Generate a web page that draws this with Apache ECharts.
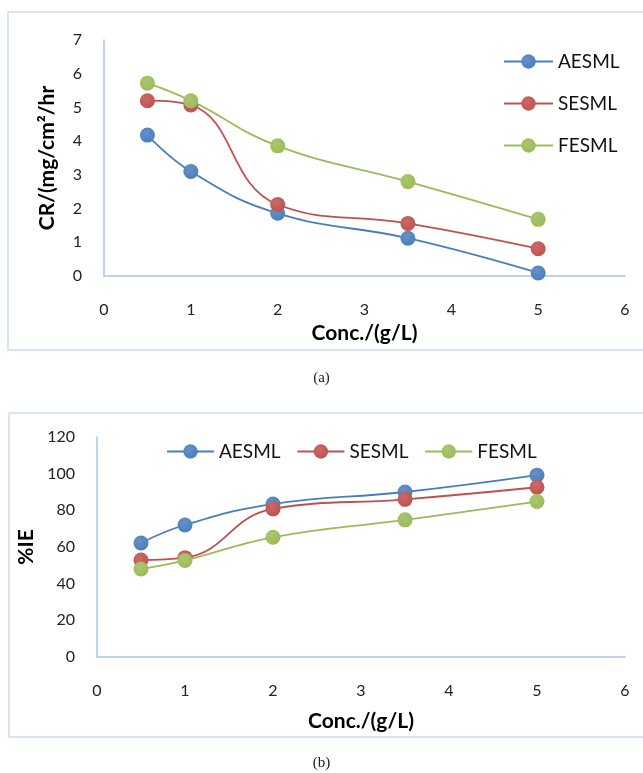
<!DOCTYPE html>
<html>
<head>
<meta charset="utf-8">
<script src="https://cdn.jsdelivr.net/npm/echarts@6/dist/echarts.min.js"></script>
<style>
  html, body { margin: 0; padding: 0; background: #ffffff; }
  #chart { width: 643px; height: 773px; }
</style>
</head>
<body>
<div id="chart"></div>
<script>
// Inhibitor concentration (g/L)
const concentrations = [0.5, 1, 2, 3.5, 5];

// Panel (a): corrosion rate, mg/cm²/hr
const crAESML = [4.18, 3.1, 1.86, 1.12, 0.09];
const crSESML = [5.2, 5.07, 2.12, 1.56, 0.81];
const crFESML = [5.72, 5.2, 3.86, 2.8, 1.68];

// Panel (b): inhibition efficiency, %
const ieAESML = [62.2, 72.0, 83.4, 90.0, 99.2];
const ieSESML = [52.9, 54.2, 80.8, 86.0, 92.6];
const ieFESML = [48.0, 52.7, 65.3, 74.8, 84.8];

const seriesNames = ['AESML', 'SESML', 'FESML'];
const xTicks = [0, 1, 2, 3, 4, 5, 6];
const crTicks = [0, 1, 2, 3, 4, 5, 6, 7];
const ieTicks = [0, 20, 40, 60, 80, 100, 120];

const colors = ['#4a7ebb', '#c0504d', '#9bbb59'];
const FONT = 'Lato';

function pairs(ys) { return concentrations.map((x, i) => [x, ys[i]]); }

// Slightly shaded round marker fill
function ball(c) {
  return {
    type: 'radial', x: 0.4, y: 0.35, r: 0.7,
    colorStops: [{ offset: 0, color: echarts.color.lift(c, 0.15) }, { offset: 1, color: c }]
  };
}

function lineSeries(name, ys, idx, color) {
  return {
    name: name, type: 'line', xAxisIndex: idx, yAxisIndex: idx,
    data: pairs(ys), smooth: 0.45, symbol: 'circle', symbolSize: 15,
    lineStyle: { color: color, width: 1.8 },
    itemStyle: { color: ball(color), borderWidth: 0 },
    emphasis: { disabled: true }
  };
}

function xAxis(idx, gap) {
  return {
    type: 'value', gridIndex: idx, min: 0, max: 6, interval: 1,
    name: 'Conc./(g/L)', nameLocation: 'middle', nameGap: gap,
    nameTextStyle: { fontFamily: FONT, fontWeight: 'bold', fontSize: 21, color: '#000' },
    axisLine: { show: true, onZero: false, lineStyle: { color: '#a9c4e8', width: 1.5 } },
    axisTick: { show: false }, splitLine: { show: false },
    axisLabel: { margin: 26, fontFamily: FONT, fontSize: 16, color: '#222',
      formatter: v => xTicks.includes(v) ? String(v) : '' }
  };
}

function yAxis(idx, name, max, step, ticks, gap) {
  return {
    type: 'value', gridIndex: idx, min: 0, max: max, interval: step,
    name: name, nameLocation: 'middle', nameGap: gap, nameRotate: 90,
    nameTextStyle: { fontFamily: FONT, fontWeight: 'bold', fontSize: 21, color: '#000' },
    axisLine: { show: true, lineStyle: { color: '#a9c4e8', width: 1.5 } },
    axisTick: { show: false }, splitLine: { show: false },
    axisLabel: { margin: 22, fontFamily: FONT, fontSize: 16, color: '#222',
      formatter: v => ticks.includes(v) ? String(v) : '' }
  };
}

const chart = echarts.init(document.getElementById('chart'), null, { renderer: 'canvas' });

chart.setOption({
  backgroundColor: '#ffffff',
  animation: false,
  graphic: [
    { type: 'rect', shape: { x: 8, y: 12, width: 650, height: 338 },
      style: { fill: 'none', stroke: '#c9dbf0', lineWidth: 1.5 } },
    { type: 'rect', shape: { x: 9, y: 413, width: 650, height: 324 },
      style: { fill: 'none', stroke: '#c9dbf0', lineWidth: 1.5 } },
    { type: 'text', left: 'center', top: 371,
      style: { text: '(a)', font: '15px "Liberation Serif"', fill: '#222' } },
    { type: 'text', left: 'center', top: 756,
      style: { text: '(b)', font: '15px "Liberation Serif"', fill: '#222' } }
  ],
  grid: [
    { left: 104, right: 18, top: 40, height: 236 },
    { left: 97, right: 18, top: 437, height: 220 }
  ],
  xAxis: [xAxis(0, 47), xAxis(1, 54)],
  yAxis: [
    yAxis(0, 'CR/(mg/cm²/hr', 7, 1, crTicks, 46),
    yAxis(1, '%IE', 120, 20, ieTicks, 58)
  ],
  legend: [
    { data: seriesNames.slice(), orient: 'vertical', left: 498, top: 47,
      itemWidth: 49, itemHeight: 18, itemGap: 23,
      textStyle: { fontFamily: FONT, fontSize: 19, color: '#111' }, selectedMode: false },
    { data: seriesNames.map(n => n + ' '), orient: 'horizontal', left: 161, top: 437,
      itemWidth: 47, itemHeight: 18, itemGap: 11,
      textStyle: { fontFamily: FONT, fontSize: 19, color: '#111' }, selectedMode: false }
  ],
  series: [
    lineSeries('AESML', crAESML, 0, colors[0]),
    lineSeries('SESML', crSESML, 0, colors[1]),
    lineSeries('FESML', crFESML, 0, colors[2]),
    lineSeries('AESML ', ieAESML, 1, colors[0]),
    lineSeries('SESML ', ieSESML, 1, colors[1]),
    lineSeries('FESML ', ieFESML, 1, colors[2])
  ]
});
</script>
</body>
</html>
